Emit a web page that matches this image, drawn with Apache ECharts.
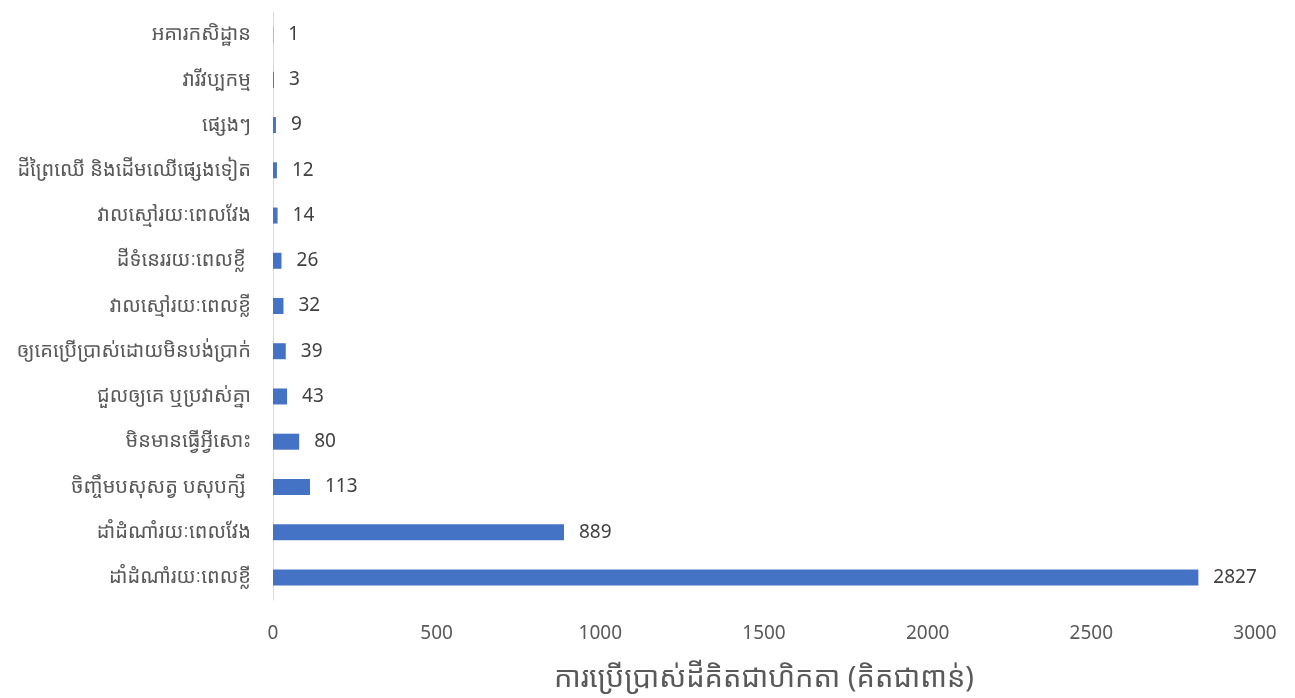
<!DOCTYPE html>
<html>
<head>
<meta charset="utf-8">
<script src="https://cdn.jsdelivr.net/npm/echarts@6/dist/echarts.min.js"></script>
<style>
html,body{margin:0;padding:0;background:#fff;}
#chart{width:1295px;height:698px;}
</style>
</head>
<body>
<div id="chart"></div>
<script>
const categories = [
  "អគារកសិដ្ឋាន",
  "វារីវប្បកម្ម",
  "ផ្សេងៗ",
  "ដីព្រៃឈើ និងដើមឈើផ្សេងទៀត",
  "វាលស្មៅរយៈពេលវែង",
  "ដីទំនេររយៈពេលខ្លី ",
  "វាលស្មៅរយៈពេលខ្លី",
  "ឲ្យគេប្រើប្រាស់ដោយមិនបង់ប្រាក់",
  "ជួលឲ្យគេ ឬប្រវាស់គ្នា",
  "មិនមានធ្វើអ្វីសោះ",
  "ចិញ្ចឹមបសុសត្វ បសុបក្សី ",
  "ដាំដំណាំរយៈពេលវែង",
  "ដាំដំណាំរយៈពេលខ្លី"
];
const values = [1, 3, 9, 12, 14, 26, 32, 39, 43, 80, 113, 889, 2827];
const axisTitle = "ការប្រើប្រាស់ដីគិតជាហិកតា (គិតជាពាន់)";

const fontFam = "'Noto Sans Khmer', 'Khmer OS', 'Noto Sans', 'DejaVu Sans', sans-serif";
const chart = echarts.init(document.getElementById('chart'));
chart.setOption({
  animation: false,
  textStyle: { fontFamily: fontFam },
  grid: { left: 273, right: 40, top: 12, bottom: 98, containLabel: false },
  xAxis: {
    type: 'value',
    min: 0, max: 3000, interval: 500,
    splitLine: { show: false },
    axisLine: { show: false },
    axisTick: { show: false },
    axisLabel: { color: '#595959', fontSize: 19, margin: 24, fontFamily: fontFam,
      formatter: v => String(v) },
    name: axisTitle,
    nameLocation: 'middle',
    nameGap: 64,
    nameTextStyle: { color: '#595959', fontSize: 29, fontFamily: fontFam }
  },
  yAxis: {
    type: 'category',
    data: categories,
    inverse: true,
    axisLine: { show: true, lineStyle: { color: '#d9d9d9', width: 1 } },
    axisTick: { show: false },
    axisLabel: { color: '#595959', fontSize: 20, margin: 22, fontFamily: fontFam }
  },
  series: [{
    type: 'bar',
    data: values,
    barWidth: 16,
    itemStyle: { color: '#4472c4' },
    label: {
      show: true, position: 'right', distance: 15,
      color: '#404040', fontSize: 19, fontFamily: fontFam
    }
  }]
});
</script>
</body>
</html>
